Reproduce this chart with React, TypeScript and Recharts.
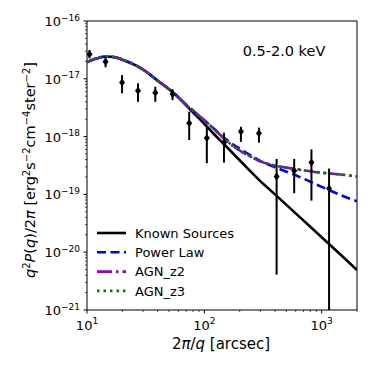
import React from "react";
import {
  ComposedChart,
  Line,
  Scatter,
  ErrorBar,
  XAxis,
  YAxis,
  ReferenceArea,
} from "recharts";

const FONT = "'DejaVu Sans', sans-serif";

// model curves
const knownX = [10, 12, 14, 16, 18, 20, 25, 30, 40, 50, 60, 70, 80, 100, 120, 150, 200, 300, 400, 600, 800, 1000, 1500, 2000];
const knownY = [
  1.95e-17, 2.24e-17, 2.4e-17, 2.4e-17, 2.32e-17, 2.14e-17, 1.78e-17, 1.45e-17, 9.3e-18, 6.6e-18, 4.8e-18, 3.47e-18,
  2.63e-18, 1.66e-18, 1.12e-18, 7.1e-19, 3.9e-19, 1.7e-19, 1.0e-19, 4.7e-20, 2.75e-20, 1.82e-20, 8.5e-21, 4.9e-21,
];

const modelX = [10, 12, 14, 16, 18, 20, 25, 30, 40, 50, 60, 70, 80, 100, 120, 150, 200, 250, 300, 400, 600, 800, 1000, 1500, 2000];
const powerY = [
  1.95e-17, 2.24e-17, 2.4e-17, 2.4e-17, 2.32e-17, 2.14e-17, 1.78e-17, 1.45e-17, 9.3e-18, 6.6e-18, 4.8e-18, 3.55e-18,
  2.82e-18, 1.91e-18, 1.38e-18, 9.3e-19, 6.2e-19, 4.7e-19, 3.8e-19, 2.95e-19, 2.14e-19, 1.66e-19, 1.35e-19, 9.5e-20, 7.6e-20,
];
const agnZ2Y = [
  1.95e-17, 2.24e-17, 2.4e-17, 2.4e-17, 2.32e-17, 2.14e-17, 1.78e-17, 1.45e-17, 9.3e-18, 6.6e-18, 4.8e-18, 3.55e-18,
  2.82e-18, 1.91e-18, 1.38e-18, 8.9e-19, 5.75e-19, 4.47e-19, 3.72e-19, 3.16e-19, 2.75e-19, 2.51e-19, 2.37e-19, 2.19e-19, 2.04e-19,
];
const agnZ3Y = [
  1.95e-17, 2.24e-17, 2.4e-17, 2.4e-17, 2.32e-17, 2.14e-17, 1.78e-17, 1.45e-17, 9.3e-18, 6.6e-18, 4.8e-18, 3.55e-18,
  2.82e-18, 1.91e-18, 1.38e-18, 8.9e-19, 5.75e-19, 4.47e-19, 3.72e-19, 3.16e-19, 2.75e-19, 2.51e-19, 2.37e-19, 2.19e-19, 2.04e-19,
];

// measured points with error bar ends
const obsX = [10.5, 14.4, 19.9, 27.2, 38.2, 53.6, 74.3, 105, 147, 205, 292, 413, 583, 818, 1156];
const obsY = [2.66e-17, 1.97e-17, 8.6e-18, 6.2e-18, 5.75e-18, 5.45e-18, 1.7e-18, 9.5e-19, 7.9e-19, 1.22e-18, 1.14e-18, 2.04e-19, 2.57e-19, 3.55e-19, 1.27e-19];
const obsHi = [3.16e-17, 2.36e-17, 1.16e-17, 8.35e-18, 7.3e-18, 6.6e-18, 2.7e-18, 1.48e-18, 1.17e-18, 1.48e-18, 1.43e-18, 4.1e-19, 4.1e-19, 6.0e-19, 2.8e-19];
const obsLo = [2.26e-17, 1.58e-17, 5.6e-18, 4.0e-18, 4.0e-18, 4.27e-18, 8.7e-19, 3.47e-19, 3.55e-19, 8.1e-19, 7.85e-19, 4.1e-21, 1.05e-19, 7.8e-20, 1e-21];

const xMajor = [10, 100, 1000];
const xMinor = [20, 30, 40, 50, 60, 70, 80, 90, 200, 300, 400, 500, 600, 700, 800, 900, 2000];
const yMajor = [1e-21, 1e-20, 1e-19, 1e-18, 1e-17, 1e-16];
const mantissas = [2, 3, 4, 5, 6, 7, 8, 9];

const legendNames = ["Known Sources", "Power Law", "AGN_z2", "AGN_z3"];
const bandLabel = "0.5-2.0 keV";

// y title pieces: [text, italic, superscript]
const yTitle: [string, boolean, boolean][] = [
  ["q", true, false],
  ["2", false, true],
  ["P", true, false],
  ["(", false, false],
  ["q", true, false],
  [")/2", false, false],
  ["\u03c0", true, false],
  [" [erg", false, false],
  ["2", false, true],
  ["s", false, false],
  ["\u22122", false, true],
  ["cm", false, false],
  ["\u22124", false, true],
  ["ster", false, false],
  ["\u22122", false, true],
  ["]", false, false],
];

const knownData = knownX.map((x, i) => ({ x, y: knownY[i] }));
const powerData = modelX.map((x, i) => ({ x, y: powerY[i] }));
const agnZ2Data = modelX.map((x, i) => ({ x, y: agnZ2Y[i] }));
const agnZ3Data = modelX.map((x, i) => ({ x, y: agnZ3Y[i] }));
const obsData = obsX.map((x, i) => ({ x, y: obsY[i], err: [obsY[i] - obsLo[i], obsHi[i] - obsY[i]] }));

const xTicks = [...xMajor, ...xMinor].sort((a, b) => a - b);
const yTicks = [
  ...yMajor,
  ...yMajor.slice(0, -1).flatMap((d) => mantissas.map((m) => m * d)),
].sort((a, b) => a - b);

const isMajor = (v: number) => {
  const l = Math.log10(v);
  return Math.abs(l - Math.round(l)) < 1e-6;
};
const expText = (v: number) => {
  const e = Math.round(Math.log10(v));
  return e < 0 ? "\u2212" + Math.abs(e) : String(e);
};

const STYLES = [
  { color: "#000000", dash: undefined as string | undefined, width: 2.6 },
  { color: "#0000ff", dash: "9 4.5", width: 2.6 },
  { color: "#9400d3", dash: "15 4 2.5 4", width: 2.6 },
  { color: "#008000", dash: "2.5 4", width: 2.6 },
];

const XTick = (props: any) => {
  const { x, y, payload } = props;
  const v = payload.value;
  const major = isMajor(v);
  return (
    <g>
      <line x1={x} x2={x} y1={y} y2={y + (major ? 3.5 : 2)} stroke="#000" strokeWidth={major ? 1 : 0.7} />
      {major && (
        <text x={x} y={y + 19.5} textAnchor="middle" fontFamily={FONT} fontSize={13} fill="#000">
          10
          <tspan dy={-5.5} fontSize={9}>
            {expText(v)}
          </tspan>
        </text>
      )}
    </g>
  );
};

const YTick = (props: any) => {
  const { x, y, payload } = props;
  const v = payload.value;
  const major = isMajor(v);
  return (
    <g>
      <line x1={x} x2={x - (major ? 3.5 : 2)} y1={y} y2={y} stroke="#000" strokeWidth={major ? 1 : 0.7} />
      {major && (
        <text x={x - 7} y={y + 5} textAnchor="end" fontFamily={FONT} fontSize={13} fill="#000">
          10
          <tspan dy={-5.5} fontSize={9}>
            {expText(v)}
          </tspan>
        </text>
      )}
    </g>
  );
};

const Diamond = (props: any) => {
  const { cx, cy } = props;
  if (cx == null || cy == null) return <g />;
  return <polygon points={`${cx},${cy - 4} ${cx + 3},${cy} ${cx},${cy + 4} ${cx - 3},${cy}`} fill="#000" />;
};

function YTitle() {
  let raised = false;
  return (
    <text
      x={35}
      y={170}
      textAnchor="middle"
      transform="rotate(-90 35 170)"
      fontFamily={FONT}
      fontSize={14.5}
      fill="#000"
    >
      {yTitle.map(([t, it, sp], i) => {
        let dy = 0;
        if (sp && !raised) dy = -5;
        if (!sp && raised) dy = 5;
        raised = sp;
        return (
          <tspan key={i} dy={dy} fontStyle={it ? "italic" : "normal"} fontSize={sp ? 10 : 14.5}>
            {t}
          </tspan>
        );
      })}
    </text>
  );
}

export default function App() {
  return (
    <div style={{ position: "absolute", left: 0, top: 0, width: 374, height: 374, background: "#fff" }}>
      <ComposedChart width={374} height={374} margin={{ top: 21, right: 17, left: 0, bottom: 0 }}>
        <XAxis
          dataKey="x"
          type="number"
          scale="log"
          domain={[10, 2000]}
          allowDataOverflow
          ticks={xTicks}
          interval={0}
          tick={<XTick />}
          tickLine={false}
          axisLine={false}
          tickSize={0}
          tickMargin={0}
          height={64}
        />
        <YAxis
          dataKey="y"
          type="number"
          scale="log"
          domain={[1e-21, 1e-16]}
          allowDataOverflow
          ticks={yTicks}
          interval={0}
          tick={<YTick />}
          tickLine={false}
          axisLine={false}
          tickSize={0}
          tickMargin={0}
          width={87}
        />
        <ReferenceArea x1={10} x2={2000} y1={1e-21} y2={1e-16} fill="none" stroke="#000" strokeWidth={1} />
        <Line data={knownData} dataKey="y" type="monotone" stroke={STYLES[0].color} strokeWidth={STYLES[0].width} dot={false} isAnimationActive={false} />
        <Line data={powerData} dataKey="y" type="monotone" stroke={STYLES[1].color} strokeWidth={STYLES[1].width} strokeDasharray={STYLES[1].dash} dot={false} isAnimationActive={false} />
        <Line data={agnZ2Data} dataKey="y" type="monotone" stroke={STYLES[2].color} strokeWidth={STYLES[2].width} strokeDasharray={STYLES[2].dash} dot={false} isAnimationActive={false} />
        <Line data={agnZ3Data} dataKey="y" type="monotone" stroke={STYLES[3].color} strokeWidth={STYLES[3].width} strokeDasharray={STYLES[3].dash} dot={false} isAnimationActive={false} />
        <Scatter data={obsData} dataKey="y" shape={<Diamond />} isAnimationActive={false}>
          <ErrorBar dataKey="err" direction="y" width={0} stroke="#000" strokeWidth={2} isAnimationActive={false} />
        </Scatter>
      </ComposedChart>
      <svg width={374} height={374} style={{ position: "absolute", left: 0, top: 0, pointerEvents: "none" }}>
        <text x={284} y={56} textAnchor="middle" fontFamily={FONT} fontSize={14.5} fill="#000">
          {bandLabel}
        </text>
        {legendNames.map((name, i) => {
          const yy = 233 + i * 19.3;
          const st = STYLES[i];
          return (
            <g key={name}>
              <line x1={97} x2={126} y1={yy} y2={yy} stroke={st.color} strokeWidth={st.width} strokeDasharray={st.dash} />
              <text x={135} y={yy + 4.8} fontFamily={FONT} fontSize={13} fill="#000">
                {name}
              </text>
            </g>
          );
        })}
        <text x={221} y={349} textAnchor="middle" fontFamily={FONT} fontSize={15} fill="#000">
          2<tspan fontStyle="italic">π</tspan>/<tspan fontStyle="italic">q</tspan> [arcsec]
        </text>
        <YTitle />
      </svg>
    </div>
  );
}
